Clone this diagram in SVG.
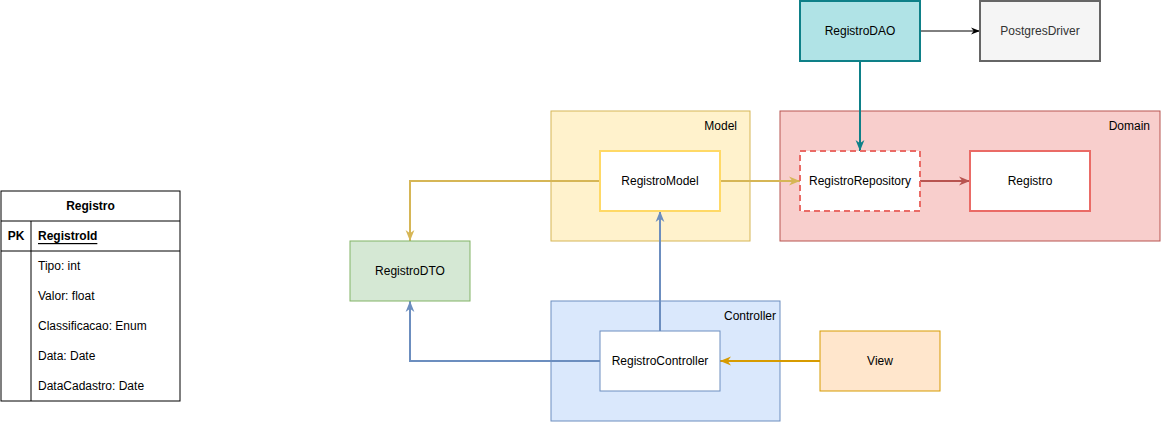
<svg xmlns="http://www.w3.org/2000/svg" width="1161" height="422" viewBox="0 0 1161 422">
<style>
text{font-family:"Liberation Sans",Arial,Helvetica,sans-serif;font-size:12px;fill:#000}
.c{text-anchor:middle;dominant-baseline:central}
.r{text-anchor:end;dominant-baseline:central}
.l{dominant-baseline:central}
.b{font-weight:bold}
.e{fill:none;stroke-width:2}
</style>
<defs>
<marker id="aY" markerUnits="userSpaceOnUse" viewBox="0 0 10 10" refX="10" refY="5" markerWidth="11" markerHeight="11" orient="auto"><path d="M0,1 L10,5 L0,9 L3,5 Z" fill="#d6b656"/></marker>
<marker id="aT" markerUnits="userSpaceOnUse" viewBox="0 0 10 10" refX="10" refY="5" markerWidth="11" markerHeight="11" orient="auto"><path d="M0,1 L10,5 L0,9 L3,5 Z" fill="#0e8088"/></marker>
<marker id="aK" markerUnits="userSpaceOnUse" viewBox="0 0 10 10" refX="10" refY="5" markerWidth="9" markerHeight="9" orient="auto"><path d="M0,1 L10,5 L0,9 L3,5 Z" fill="#000"/></marker>
<marker id="aR" markerUnits="userSpaceOnUse" viewBox="0 0 10 10" refX="10" refY="5" markerWidth="11" markerHeight="11" orient="auto"><path d="M0,1 L10,5 L0,9 L3,5 Z" fill="#b85450"/></marker>
<marker id="aB" markerUnits="userSpaceOnUse" viewBox="0 0 10 10" refX="10" refY="5" markerWidth="11" markerHeight="11" orient="auto"><path d="M0,1 L10,5 L0,9 L3,5 Z" fill="#6c8ebf"/></marker>
<marker id="aO" markerUnits="userSpaceOnUse" viewBox="0 0 10 10" refX="10" refY="5" markerWidth="11" markerHeight="11" orient="auto"><path d="M0,1 L10,5 L0,9 L3,5 Z" fill="#d79b00"/></marker>
</defs>
<rect width="1161" height="422" fill="#fff"/>

<g id="table-registro">
<rect x="1" y="191" width="179" height="210" fill="#fff" stroke="#000"/>
<line x1="1" y1="221" x2="180" y2="221" stroke="#000"/>
<line x1="1" y1="251" x2="180" y2="251" stroke="#000"/>
<line x1="31" y1="221" x2="31" y2="401" stroke="#000"/>
<text class="c b" x="90.5" y="206">Registro</text>
<text class="c b" x="16" y="236">PK</text>
<text class="l b" x="38" y="236" text-decoration="underline">RegistroId</text>
<text class="l" x="38" y="266">Tipo: int</text>
<text class="l" x="38" y="296">Valor: float</text>
<text class="l" x="38" y="326">Classificacao: Enum</text>
<text class="l" x="38" y="356">Data: Date</text>
<text class="l" x="38" y="386">DataCadastro: Date</text>
</g>

<g id="group-model">
<rect x="551" y="111" width="199" height="130" fill="#fff2cc" stroke="#d6b656"/>
<text class="r" x="737" y="126">Model</text>
</g>
<g id="group-domain">
<rect x="780" y="111" width="380" height="130" fill="#f8cecc" stroke="#b85450"/>
<text class="r" x="1150" y="126">Domain</text>
</g>
<g id="group-controller">
<rect x="551" y="301" width="229" height="120" fill="#dae8fc" stroke="#6c8ebf"/>
<text class="r" x="776" y="316">Controller</text>
</g>

<g id="connectors">
<path class="e" d="M600,181 H410 V241" stroke="#d6b656" marker-end="url(#aY)"/>
<path class="e" d="M720,181 H800" stroke="#d6b656" marker-end="url(#aY)"/>
<path class="e" d="M860,61 V151" stroke="#0e8088" marker-end="url(#aT)"/>
<path d="M920,31 H980" fill="none" stroke="#000" stroke-width="1" marker-end="url(#aK)"/>
<path class="e" d="M920,181 H970" stroke="#b85450" marker-end="url(#aR)"/>
<path class="e" d="M660,331 V211" stroke="#6c8ebf" marker-end="url(#aB)"/>
<path class="e" d="M600,361 H410 V301" stroke="#6c8ebf" marker-end="url(#aB)"/>
<path class="e" d="M820,361 H720" stroke="#d79b00" marker-end="url(#aO)"/>
</g>

<g id="node-registromodel">
<rect x="600" y="151" width="120" height="60" fill="#fff" stroke="#ffd966" stroke-width="2"/>
<text class="c" x="660" y="181">RegistroModel</text>
</g>
<g id="node-registrorepository">
<rect x="800" y="151" width="120" height="60" fill="#fff" stroke="#ea6b66" stroke-width="2" stroke-dasharray="6 4"/>
<text class="c" x="860" y="181">RegistroRepository</text>
</g>
<g id="node-registro">
<rect x="970" y="151" width="120" height="60" fill="#fff" stroke="#ea6b66" stroke-width="2"/>
<text class="c" x="1030" y="181">Registro</text>
</g>
<g id="node-registrodao">
<rect x="800" y="1" width="120" height="60" fill="#b0e3e6" stroke="#0e8088" stroke-width="2"/>
<text class="c" x="860" y="31">RegistroDAO</text>
</g>
<g id="node-postgresdriver">
<rect x="980" y="1" width="120" height="60" fill="#f5f5f5" stroke="#666666" stroke-width="2"/>
<text class="c" x="1040" y="31" style="fill:#333333">PostgresDriver</text>
</g>
<g id="node-registrodto">
<rect x="350" y="241" width="120" height="60" fill="#d5e8d4" stroke="#82b366"/>
<text class="c" x="410" y="271">RegistroDTO</text>
</g>
<g id="node-registrocontroller">
<rect x="600" y="331" width="120" height="60" fill="#fff" stroke="#6c8ebf"/>
<text class="c" x="660" y="361">RegistroController</text>
</g>
<g id="node-view">
<rect x="820" y="331" width="120" height="60" fill="#ffe6cc" stroke="#d79b00"/>
<text class="c" x="880" y="361">View</text>
</g>
</svg>
